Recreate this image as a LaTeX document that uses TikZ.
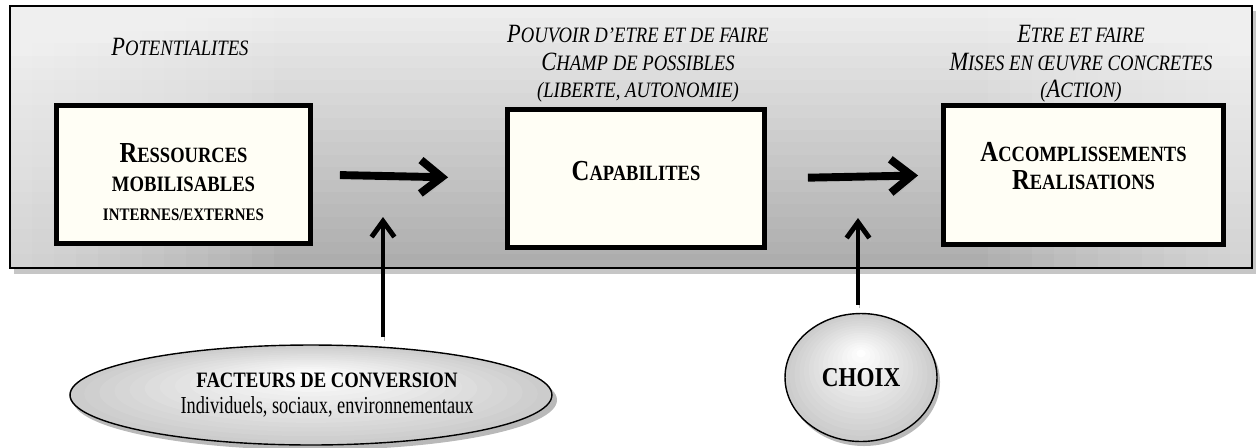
\documentclass[tikz,border=0pt]{standalone}
\usepackage{fontspec}
\setmainfont{Liberation Serif}[FakeStretch=0.85]
\newfontfamily\etroit{Liberation Serif}[FakeStretch=0.75]
\usetikzlibrary{arrows.meta,shadows,shapes.geometric}

% petites capitales a la main
\newcommand\hsc[2]{{\fontsize{15}{18}\selectfont #1}#2}
\newcommand\bsc[2]{{\fontsize{16.5}{19}\selectfont #1}#2}

\tikzset{
	titre/.style={font=\itshape\fontsize{12.5}{15.6}\selectfont, align=center},
	boite/.style={draw, line width=2.8pt, fill=white!96!yellow,
		drop shadow={shadow xshift=1.2pt, shadow yshift=-1.2pt, fill=black!70, opacity=1}},
	texteboite/.style={align=center, font=\bfseries\fontsize{12.4}{16.4}\selectfont},
	fleche/.style={line width=4.5pt, -{Straight Barb[length=12pt,width=19pt]},
		preaction={draw=gray!55, transform canvas={xshift=1.5pt,yshift=-2.5pt}}},
	montee/.style={line width=2.8pt, -{Straight Barb[length=9pt,width=13pt]},
		preaction={draw=gray!55, transform canvas={xshift=1pt,yshift=-2pt}}},
	bulle/.style={ellipse, draw, line width=0.8pt, inner sep=0pt, align=center}
}

\begin{document}
\begin{tikzpicture}[x=0.02cm, y=-0.02cm]
	\useasboundingbox (0,0) rectangle (1256,447);
	% bandeau degrade
	\fill[gray!45] (14,11) rectangle (1256,274);
	\foreach \i [evaluate=\i as \g using 7+1.25*\i] in {0,...,20}
		\fill[black!\g] (10,6+\i*12.4) rectangle (1252,268);
	\foreach \j in {1,...,12} {
		\fill[white, opacity=0.06] (10,6) rectangle (10+\j*22,268);
		\fill[white, opacity=0.06] (1252-\j*22,6) rectangle (1252,268);
	}
	\draw[line width=0.8pt] (10,6) rectangle (1252,268);

	\node[titre] (potent) at (180,47) {\hsc{P}{OTENTIALITES}};
	\node[titre] (pouvoir) at (638,64) {\hsc{P}{OUVOIR D’ETRE ET DE FAIRE}\\
		\hsc{C}{HAMP DE POSSIBLES}\\(LIBERTE, AUTONOMIE)};
	\node[titre] (etre) at (1081,64) {\hsc{E}{TRE ET FAIRE}\\
		\hsc{M}{ISES EN ŒUVRE CONCRETES}\\(\hsc{A}{CTION})};

	\node[boite, minimum width=5.08cm, minimum height=2.76cm] (ress) at (183.5,174.5) {};
	\node[boite, minimum width=5.14cm, minimum height=2.76cm] (capa) at (636,178.5) {};
	\node[boite, minimum width=5.6cm, minimum height=2.78cm] (accomp) at (1083.5,175) {};
	\node[texteboite] (ressT) at (183.5,182)
		{\bsc{R}{ESSOURCES}\\{\fontsize{12.5}{16.4}\selectfont MOBILISABLES}\\
		{\fontsize{10}{12}\selectfont INTERNES/EXTERNES}};
	\node[texteboite] (capaT) at (636,171) {\bsc{C}{APABILITES}};
	\node[texteboite] (accompT) at (1083.5,166)
		{\bsc{A}{CCOMPLISSEMENTS}\\\bsc{R}{EALISATIONS}};

	% bulles: ombre et degrade
	\fill[gray!55] (315,400) ellipse [x radius=242, y radius=50];
	\fill[gray!55] (864,382) ellipse [x radius=76, y radius=64];
	\foreach \i [evaluate=\i as \g using 20-1.3*\i] in {0,...,15} {
		\fill[black!\g] (311,395-\i*1.3) ellipse [x radius={242*(1-\i/16)}, y radius={50*(1-\i/16)}];
		\fill[black!\g] (861,377.5-\i*1.6) ellipse [x radius={76*(1-\i/16)}, y radius={64*(1-\i/16)}];
	}
	\node[bulle, minimum width=9.64cm, minimum height=2cm] (facteurs) at (311,395) {};
	\node[align=center] (facteursT) at (327,395)
		{\fontsize{12.5}{17}\selectfont\bfseries FACTEURS DE CONVERSION\\[2.5pt]
		\etroit\fontsize{13.9}{17}\selectfont Individuels, sociaux, environnementaux};
	\node[bulle, minimum width=3.04cm, minimum height=2.56cm,
		font=\bfseries\fontsize{15.5}{17}\selectfont] (choix) at (861,377.5) {CHOIX};

	\draw[fleche, shorten <=0.54cm, shorten >=1.14cm] (ress.east) -- (capa.west);
	\draw[fleche, shorten <=0.82cm, shorten >=0.46cm] (capa.east) -- (accomp.west);

	\coordinate (convTip) at (383,217);
	\coordinate (choixTip) at (858,218);
	\draw[montee, shorten <=0.14cm] (facteurs.north -| convTip) -- (convTip);
	\draw[montee, shorten <=0.16cm] (choix.north -| choixTip) -- (choixTip);
\end{tikzpicture}
\end{document}
